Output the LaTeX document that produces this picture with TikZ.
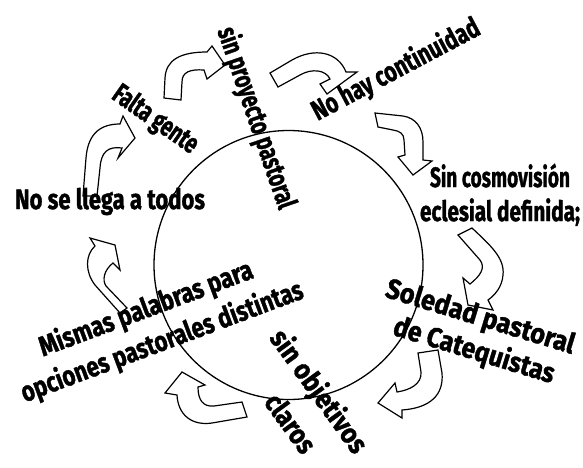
\documentclass[tikz,border=0pt]{standalone}
\usepackage{fontspec}
\setmainfont{Fira Sans}[BoldFeatures={FakeBold=1.5}]
\newcommand\fw[2]{\resizebox{#1pt}{\height}{#2}}
\tikzset{
  arr/.style={draw=black, line width=1.2pt, fill=white, line join=miter},
  lbl/.style={inner sep=0pt, font=\fontsize{28}{32}\selectfont\bfseries},
  ring/.style={draw=black, circle, line width=1.3pt, inner sep=0pt, minimum size=269pt}
}
\begin{document}
\begin{tikzpicture}[x=1pt,y=-1pt]
\useasboundingbox (0,0) rectangle (583,467);
\fill[white] (0,0) rectangle (583,467);
% arrows
\draw[arr] (83,196) -- (86,158) .. controls (88,132) and (102,124) .. (120,124) -- (123,116) -- (135,138) -- (118,158) -- (122,148) .. controls (108,146) and (101,152) .. (100,168) -- (97,196) -- cycle;
\draw[arr] (164,98) -- (165,78) .. controls (166,60) and (180,52) .. (207,52) -- (212,46) -- (225,65) -- (207,79) -- (204,70) .. controls (190,69) and (182,72) .. (182,82) -- (181,100) -- cycle;
\draw[arr] (270,73) -- (292,60) .. controls (315,47) and (338,52) .. (346,72) -- (357,72) -- (327,94) -- (320,84) -- (330,79) .. controls (326,70) and (312,68) .. (300,75) -- (278,87) -- cycle;
\draw[arr] (375,113) -- (403,116) .. controls (416,118) and (423,128) .. (423,142) -- (423,160) -- (432,161) -- (413,175) -- (398,157) -- (405,155) -- (404,140) .. controls (404,134) and (400,131) .. (393,130) -- (378,127) -- cycle;
\draw[arr] (458,235) -- (472,228) .. controls (490,245) and (505,258) .. (503,275) .. controls (502,287) and (495,295) .. (488,300) -- (493,310) -- (468,305) -- (463,278) -- (470,284) .. controls (480,276) and (486,268) .. (480,260) -- cycle;
\draw[arr] (418,353) -- (438,350) -- (442,373) .. controls (444,395) and (430,408) .. (402,410) -- (402,418) -- (378,403) -- (395,383) -- (397,392) .. controls (410,390) and (422,384) .. (421,372) -- cycle;
\draw[arr] (242,402) -- (247,417) -- (212,423) .. controls (192,426) and (178,415) .. (177,395) -- (165,393) -- (182,372) -- (205,385) -- (198,387) .. controls (198,400) and (203,407) .. (214,406) -- cycle;
\draw[arr] (127,308) -- (120,313) -- (95,285) .. controls (85,272) and (85,255) .. (95,246) -- (90,238) -- (115,245) -- (120,270) -- (113,263) .. controls (104,270) and (102,280) .. (106,286) -- cycle;
% circle
\node[ring] (ring) at (288.5,265) {};
% texts
\node[lbl, anchor=base] (t1) at (110,209) {\fw{190}{No se llega a todos}};
\node[lbl, rotate=-35] (t2) at (155,120) {\fw{98}{Falta gente}};
\node[lbl, rotate=-71] (t3) at (256,118) {\fw{190}{sin proyecto pastoral}};
\node[lbl, rotate=28] (t4) at (396,70) {\fw{186}{No hay continuidad}};
\node[lbl, anchor=base] (t5) at (500,187) {\fw{140}{Sin cosmovisión}};
\node[lbl, anchor=base] (t6) at (500,221) {\fw{160}{eclesial definida;}};
\node[lbl, rotate=-17] (t7) at (480,318) {\fw{196}{Soledad pastoral}};
\node[lbl, rotate=-17] (t8) at (474,351) {\fw{167}{de Catequistas}};
\node[lbl, rotate=-54] (t9) at (318,392) {\fw{145}{sin objetivos}};
\node[lbl, rotate=-54] (t10) at (291,423) {\fw{66}{claros}};
\node[lbl, rotate=20.5, anchor=base] (t11) at (149,317) {\fw{226}{Mismas palabras para}};
\node[lbl, rotate=20.5, anchor=base] (t12) at (165,350) {\fw{299}{opciones pastorales distintas}};
\end{tikzpicture}
\end{document}
